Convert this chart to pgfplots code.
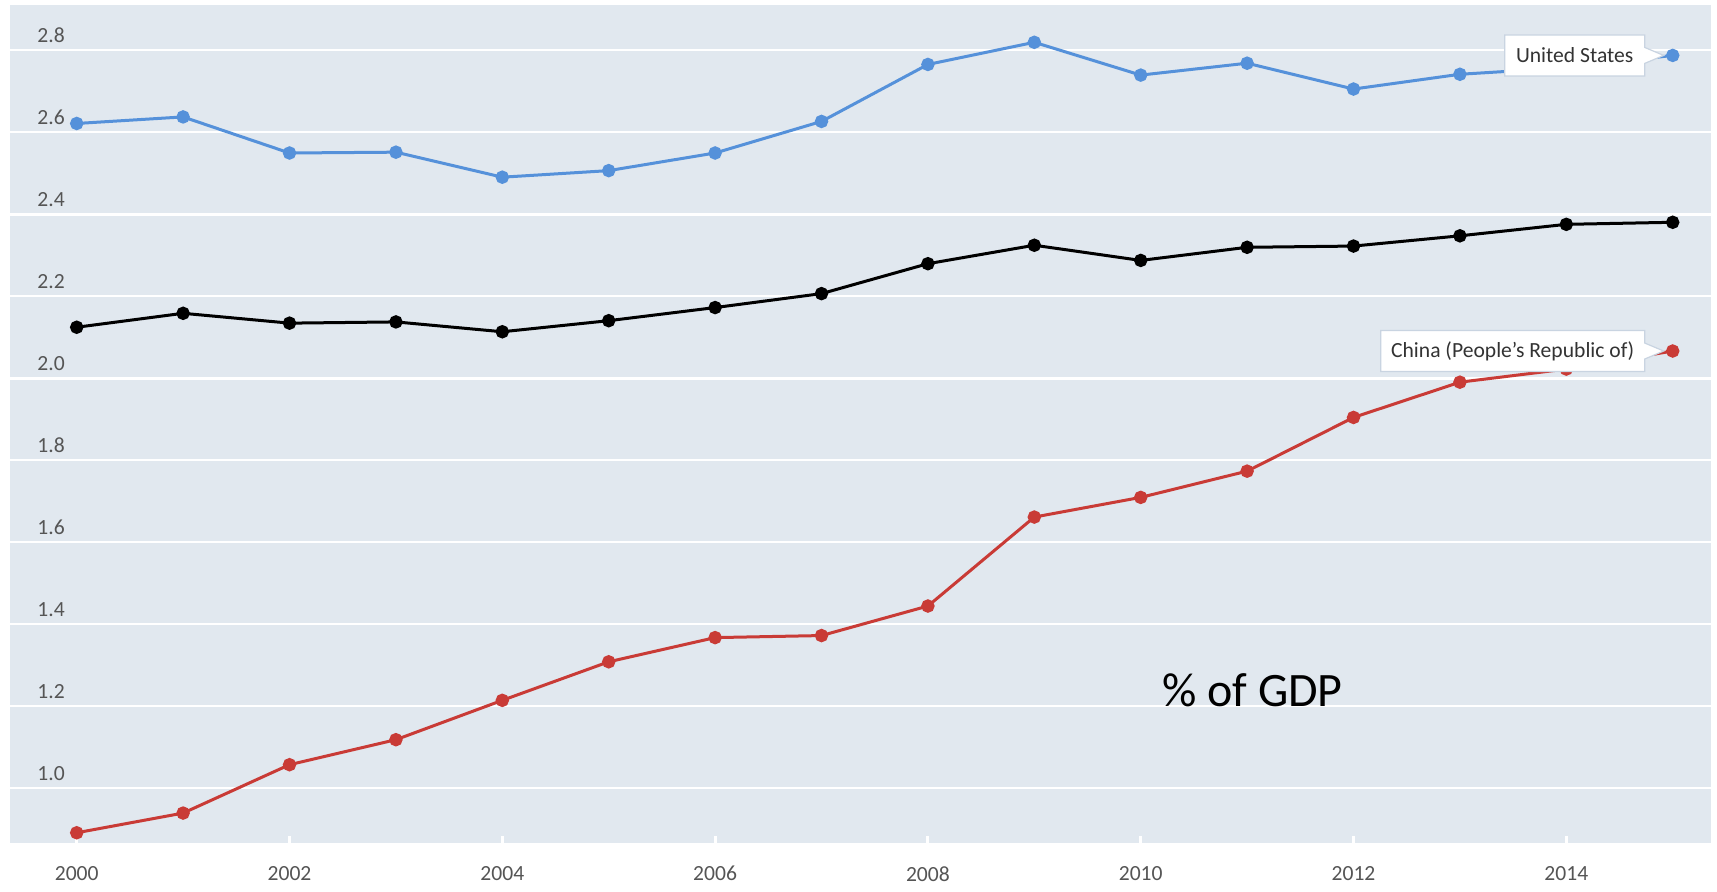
\documentclass[border=0pt]{standalone}
\usepackage{pgfplots}
\pgfplotsset{compat=1.18}
\usepackage{fontspec}
\setmainfont{Carlito}
\usetikzlibrary{shapes.callouts}
\definecolor{bgc}{HTML}{E1E8EF}
\definecolor{usblue}{HTML}{5591DA}
\definecolor{cnred}{HTML}{C93B36}
\definecolor{tickgray}{HTML}{555555}
\definecolor{boxborder}{HTML}{C9D4E1}
\definecolor{labtext}{HTML}{333333}

\pgfplotstableread{
year us oecd cn
2000 2.621 2.124 0.891
2001 2.637 2.158 0.939
2002 2.549 2.134 1.057
2003 2.551 2.137 1.118
2004 2.490 2.113 1.214
2005 2.506 2.140 1.308
2006 2.549 2.172 1.367
2007 2.626 2.206 1.372
2008 2.765 2.279 1.444
2009 2.819 2.324 1.661
2010 2.739 2.287 1.709
2011 2.768 2.319 1.773
2012 2.705 2.322 1.904
2013 2.741 2.347 1.990
2014 2.757 2.375 2.022
2015 2.787 2.380 2.066
}\datatable

\begin{document}
\begin{tikzpicture}
\begin{axis}[
  scale only axis, width=850.5pt, height=419pt,
  xmin=1999.373, xmax=2015.36, ymin=0.866, ymax=2.91,
  axis background/.style={fill=bgc},
  axis line style={draw=none},
  clip=false,
  xtick={2000,2002,2004,2006,2008,2010,2012,2014},
  xticklabels={2000,2002,2004,2006,2008,2010,2012,2014},
  ytick={1.0,1.2,1.4,1.6,1.8,2.0,2.2,2.4,2.6,2.8},
  yticklabels={1.0,1.2,1.4,1.6,1.8,2.0,2.2,2.4,2.6,2.8},
  extra y ticks={2.0,2.4},
  extra y tick labels={},
  extra y tick style={grid style={white, line width=1.5pt}},
  ymajorgrids,
  grid style={white, line width=0.7pt},
  ytick style={draw=none},
  xtick style={white, line width=1.5pt},
  xtick pos=left,
  tick align=inside,
  major tick length=3.5pt,
  xticklabel style={font=\fontsize{10.8}{12}\selectfont, text=tickgray, anchor=north, inner sep=0pt, yshift=-11.5pt},
  yticklabel style={font=\fontsize{10.8}{12}\selectfont, text=tickgray, anchor=south west, inner sep=0pt, xshift=13.5pt, yshift=3.5pt},
  every axis plot/.append style={line width=1.5pt, mark=*, mark size=2.6pt, mark options={solid, draw=white, line width=0.5pt}},
]
\addplot[color=usblue, mark options={fill=usblue}] table[x=year, y=us] {\datatable};
\addplot[color=black, mark options={fill=black}] table[x=year, y=oecd] {\datatable};
\addplot[color=cnred, mark options={fill=cnred}] table[x=year, y=cn] {\datatable};
\coordinate (usA) at (axis cs:2015,2.787);
\coordinate (usP) at (axis cs:2014.915,2.787);
\coordinate (cnA) at (axis cs:2015,2.066);
\coordinate (cnP) at (axis cs:2014.915,2.066);
\coordinate (gdp) at (axis cs:2011.05,1.239);
\end{axis}
\node[rectangle callout, fill=white, draw=boxborder, line width=0.6pt,
  minimum width=70pt, minimum height=20.5pt, inner sep=0pt,
  callout absolute pointer={(usP)}, callout pointer width=8pt,
  xshift=-49pt, font=\fontsize{10.8}{12}\selectfont, text=labtext]
  at (usA) {United States};
\node[rectangle callout, fill=white, draw=boxborder, line width=0.6pt,
  minimum width=132pt, minimum height=20.5pt, inner sep=0pt,
  callout absolute pointer={(cnP)}, callout pointer width=8pt,
  xshift=-80pt, font=\fontsize{10.8}{12}\selectfont, text=labtext]
  at (cnA) {China (People’s Republic of)};
\node[font=\fontsize{24}{28}\selectfont, text=black] at (gdp) {\% of GDP};
\path (current axis.south west) ++(-5pt,-24pt) rectangle ++(858.5pt,445.5pt);
\end{tikzpicture}
\end{document}
